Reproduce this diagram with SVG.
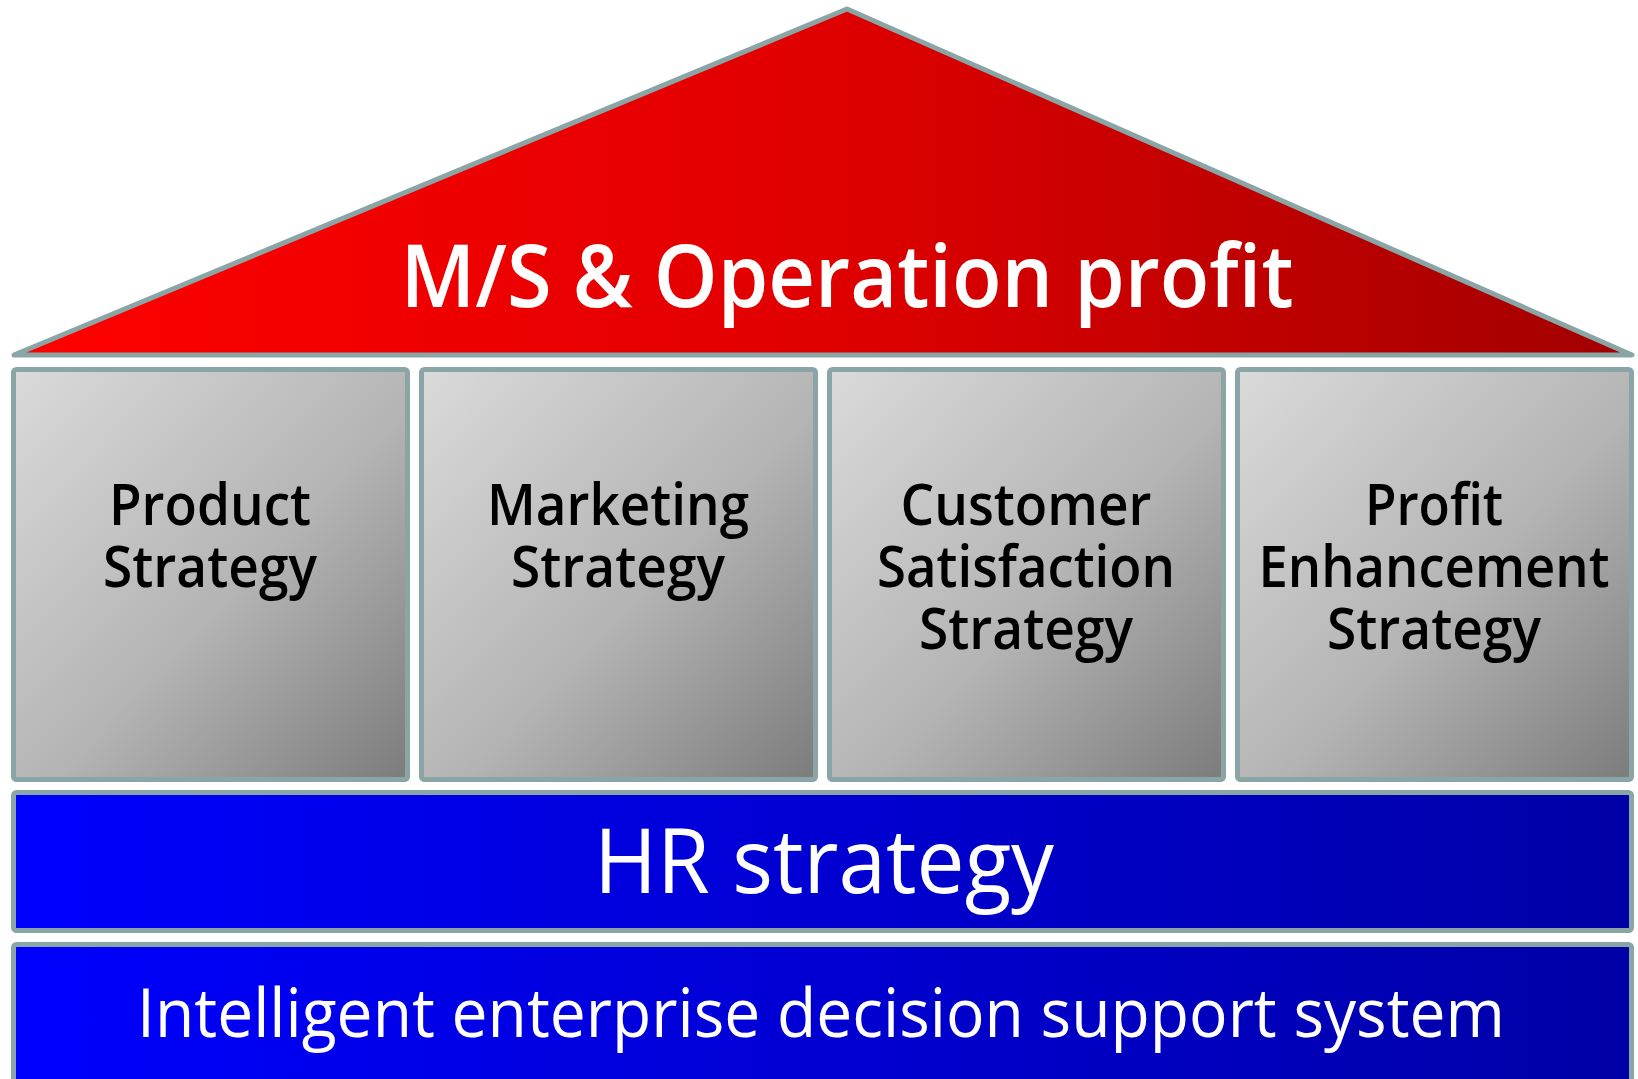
<svg xmlns="http://www.w3.org/2000/svg" width="1638" height="1079" viewBox="0 0 1638 1079">
  <defs>
    <linearGradient id="roofFill" x1="0" y1="0" x2="1" y2="0">
      <stop offset="0" stop-color="#ff0000"/>
      <stop offset="0.5" stop-color="#e00000"/>
      <stop offset="1" stop-color="#a20000"/>
    </linearGradient>
    <linearGradient id="pillarFill" x1="0" y1="0" x2="1" y2="1">
      <stop offset="0" stop-color="#dadada"/>
      <stop offset="0.55" stop-color="#b4b4b4"/>
      <stop offset="1" stop-color="#7c7c7c"/>
    </linearGradient>
    <linearGradient id="baseFill" x1="0" y1="0" x2="1" y2="0">
      <stop offset="0" stop-color="#0000ff"/>
      <stop offset="1" stop-color="#0000a6"/>
    </linearGradient>
  </defs>
  <style>
    .frame { stroke: #8aa5a5; stroke-width: 5; stroke-linejoin: round; }
    .pillar { fill: url(#pillarFill); }
    .band { fill: url(#baseFill); }
    .lbl { font-family: "Open Sans", "Noto Sans", "Liberation Sans", sans-serif; text-anchor: middle; }
    .light { fill: #ffffff; }
    .bold { font-weight: 600; }
    .dark { fill: #000000; font-size: 58px; font-weight: 600; }
  </style>

  <rect width="1638" height="1079" fill="#ffffff"/>

  <!-- roof -->
  <g id="roof">
    <polygon class="frame" points="14,355 847,9 1632,355" fill="url(#roofFill)"/>
    <text class="lbl light bold" x="847" y="307" font-size="86" textLength="893" lengthAdjust="spacingAndGlyphs">M/S &amp; Operation profit</text>
  </g>

  <!-- pillars -->
  <g id="product">
    <rect class="frame pillar" x="13.5" y="369.5" width="394" height="410" rx="3"/>
    <text class="lbl dark" x="210" y="525" textLength="202" lengthAdjust="spacingAndGlyphs">Product</text>
    <text class="lbl dark" x="210" y="587" textLength="214" lengthAdjust="spacingAndGlyphs">Strategy</text>
  </g>
  <g id="marketing">
    <rect class="frame pillar" x="421.5" y="369.5" width="394" height="410" rx="3"/>
    <text class="lbl dark" x="618" y="525" textLength="262" lengthAdjust="spacingAndGlyphs">Marketing</text>
    <text class="lbl dark" x="618" y="587" textLength="214" lengthAdjust="spacingAndGlyphs">Strategy</text>
  </g>
  <g id="customer">
    <rect class="frame pillar" x="829.5" y="369.5" width="394" height="410" rx="3"/>
    <text class="lbl dark" x="1026" y="525" textLength="251" lengthAdjust="spacingAndGlyphs">Customer</text>
    <text class="lbl dark" x="1026" y="587" textLength="298" lengthAdjust="spacingAndGlyphs">Satisfaction</text>
    <text class="lbl dark" x="1026" y="649" textLength="214" lengthAdjust="spacingAndGlyphs">Strategy</text>
  </g>
  <g id="profit">
    <rect class="frame pillar" x="1237.5" y="369.5" width="394" height="410" rx="3"/>
    <text class="lbl dark" x="1434" y="525" textLength="138" lengthAdjust="spacingAndGlyphs">Profit</text>
    <text class="lbl dark" x="1434" y="587" textLength="351" lengthAdjust="spacingAndGlyphs">Enhancement</text>
    <text class="lbl dark" x="1434" y="649" textLength="214" lengthAdjust="spacingAndGlyphs">Strategy</text>
  </g>

  <!-- foundation bands -->
  <g id="hr">
    <rect class="frame band" x="13.5" y="792.5" width="1618" height="138" rx="3"/>
    <text class="lbl light" x="824" y="893" font-size="90" textLength="460" lengthAdjust="spacingAndGlyphs">HR strategy</text>
  </g>
  <g id="dss">
    <rect class="frame band" x="13.5" y="944.5" width="1618" height="200" rx="3"/>
    <text class="lbl light" x="821" y="1037" font-size="68" textLength="1368" lengthAdjust="spacingAndGlyphs">Intelligent enterprise decision support system</text>
  </g>

  <g id="connectors"/>
</svg>
